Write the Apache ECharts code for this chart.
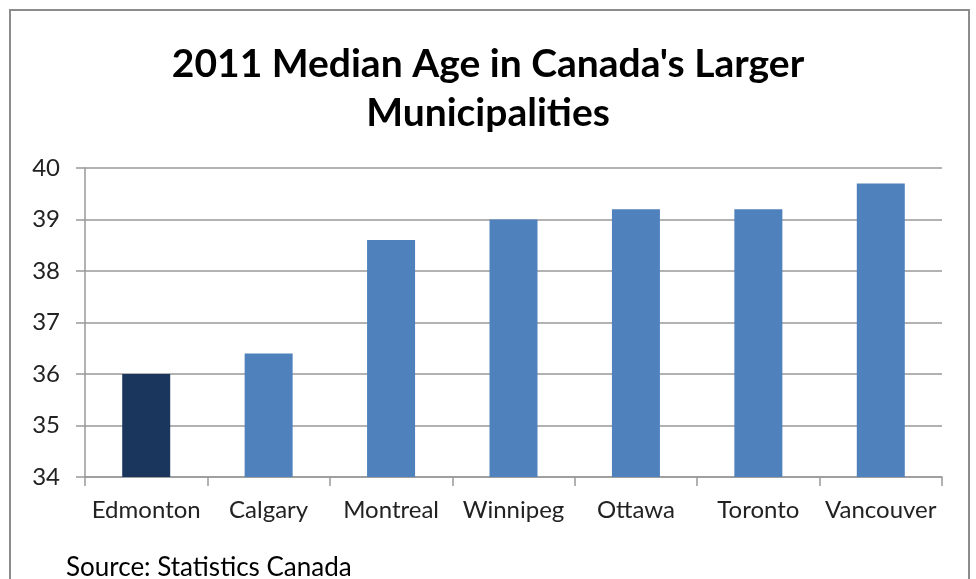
<!DOCTYPE html>
<html><head><meta charset="utf-8">
<script src="https://cdn.jsdelivr.net/npm/echarts@6/dist/echarts.min.js"></script>
<style>html,body{margin:0;padding:0;background:#fff}#c{width:976px;height:579px}</style>
</head><body><div id="c"></div>
<script>
const categories = ['Edmonton','Calgary','Montreal','Winnipeg','Ottawa','Toronto','Vancouver'];
const medianAge = [36.0, 36.4, 38.6, 39.0, 39.2, 39.2, 39.7];
const highlightCity = 'Edmonton';
const titleText = "2011 Median Age in Canada's Larger\nMunicipalities";
const sourceText = 'Source: Statistics Canada';
const yMin = 34, yMax = 40, yStep = 1;

const chart = echarts.init(document.getElementById('c'), null, {renderer:'canvas'});
const font = 'Lato, "Liberation Sans", sans-serif';
chart.setOption({
  animation:false,
  backgroundColor:'#fff',
  graphic:[
    {type:'rect', shape:{x:10,y:10,width:959,height:600}, style:{fill:'none', stroke:'#8c8c8c', lineWidth:2}, z:0},
    {type:'text', left:66, top:555, style:{text:sourceText, font:'26px '+font, fill:'#000'}}
  ],
  title:{text:titleText, left:'center', top:35, textStyle:{fontFamily:font, fontWeight:'bold', fontSize:39, lineHeight:49, color:'#000'}},
  grid:{left:85, right:34, top:168, bottom:102, containLabel:false},
  xAxis:{type:'category', data:categories,
    axisLine:{lineStyle:{color:'#999', width:1.5}},
    axisTick:{show:true, length:9, interval:0, alignWithLabel:false, lineStyle:{color:'#999', width:1.5}},
    axisLabel:{margin:21, interval:0, fontFamily:font, fontSize:24, color:'#222'}},
  yAxis:{type:'value', min:yMin, max:yMax, interval:yStep,
    axisLine:{show:true, lineStyle:{color:'#999', width:1.5}},
    axisTick:{show:true, length:9, lineStyle:{color:'#999', width:1.5}},
    splitLine:{lineStyle:{color:'#999', width:1.5}},
    axisLabel:{margin:25, fontFamily:font, fontSize:24, color:'#222'}},
  series:[{type:'bar', barWidth:48,
    data:medianAge.map((v,i)=>({value:v, itemStyle:{color: categories[i]===highlightCity ? '#1b365d' : '#4f81bd'}}))}]
});
</script></body></html>
